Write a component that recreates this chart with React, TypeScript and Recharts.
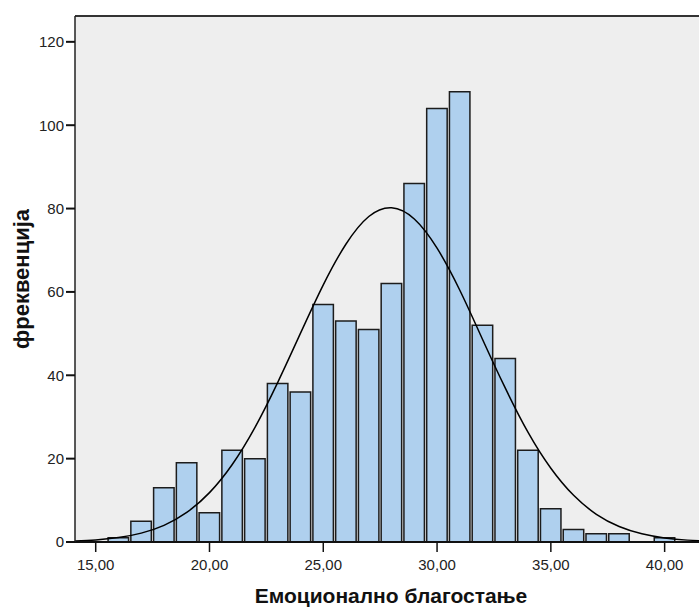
import React from 'react';
import {
  ComposedChart,
  Bar,
  Line,
  XAxis,
  YAxis,
  CartesianGrid,
  ReferenceLine,
} from 'recharts';

// Histogram bins (width 1, centred on whole numbers)
const binCenters = [16, 17, 18, 19, 20, 21, 22, 23, 24, 25, 26, 27, 28, 29, 30, 31, 32, 33, 34, 35, 36, 37, 38, 39, 40];
const binCounts = [1, 5, 13, 19, 7, 22, 20, 38, 36, 57, 53, 51, 62, 86, 104, 108, 52, 44, 22, 8, 3, 2, 2, 0, 1];

// Fitted normal curve, sampled at whole numbers
const curveX = [14, 15, 16, 17, 18, 19, 20, 21, 22, 23, 24, 25, 26, 27, 28, 29, 30, 31, 32, 33, 34, 35, 36, 37, 38, 39, 40, 41, 42];
const curveY = [0.22, 0.5, 1.06, 2.13, 4.0, 7.1, 11.85, 18.6, 27.5, 38.3, 50.1, 61.7, 71.5, 78.1, 80.2, 77.5, 70.5, 60.4, 48.6, 36.9, 26.3, 17.7, 11.2, 6.65, 3.72, 1.96, 0.97, 0.45, 0.2];

const xTicks = [15, 20, 25, 30, 35, 40];
const yTicks = [0, 20, 40, 60, 80, 100, 120];

const xTitle = 'Емоционално благостање';
const yTitle = 'фреквенција';

const X_MIN = 14.09;
const X_MAX = 41.51;
const Y_MAX = 126.2;

const WIDTH = 699;
const HEIGHT = 608;
const PLOT_LEFT = 75;
const PLOT_TOP = 16;
const PLOT_BOTTOM = 542;
const PLOT_WIDTH = WIDTH - PLOT_LEFT;
const BAR_WIDTH = PLOT_WIDTH / (X_MAX - X_MIN);

const FONT = '"Liberation Sans", Arial, sans-serif';

const tableData = curveX.map((x, i) => {
  const b = binCenters.indexOf(x);
  return { x, count: b >= 0 ? binCounts[b] : null, curve: curveY[i] };
});

const formatTick = (v: number) => v.toFixed(2).replace('.', ',');

const YTitle = (props: any) => {
  const vb = props.viewBox || {};
  const cx = 21;
  const cy = (vb.y ?? PLOT_TOP) + (vb.height ?? PLOT_BOTTOM - PLOT_TOP) / 2;
  return (
    <text
      x={cx}
      y={cy}
      transform={`rotate(-90 ${cx} ${cy})`}
      textAnchor="middle"
      dominantBaseline="central"
      fontFamily={FONT}
      fontSize={22}
      fontWeight="bold"
      fill="#111"
    >
      {yTitle}
    </text>
  );
};

const XTitle = (props: any) => {
  const vb = props.viewBox || {};
  const cx = (vb.x ?? PLOT_LEFT) + (vb.width ?? PLOT_WIDTH) / 2 + 4;
  return (
    <text
      x={cx}
      y={HEIGHT - 5}
      textAnchor="middle"
      fontFamily={FONT}
      fontSize={21}
      fontWeight="bold"
      fill="#111"
    >
      {xTitle}
    </text>
  );
};

export default function App() {
  return (
    <div style={{ position: 'absolute', left: 0, top: 0, background: '#fff' }}>
      <ComposedChart
        width={WIDTH}
        height={HEIGHT}
        data={tableData}
        margin={{ top: PLOT_TOP, right: 0, left: 0, bottom: 0 }}
        barGap={0}
        barCategoryGap={0}
      >
        <CartesianGrid horizontal={false} vertical={false} fill="#EEEEEE" />
        <XAxis
          type="number"
          dataKey="x"
          domain={[X_MIN, X_MAX]}
          allowDataOverflow
          ticks={xTicks}
          tickFormatter={formatTick}
          height={HEIGHT - PLOT_BOTTOM}
          tickSize={10}
          tickMargin={7}
          axisLine={{ stroke: '#111', strokeWidth: 2 }}
          tickLine={{ stroke: '#111', strokeWidth: 1.5 }}
          tick={{ fill: '#222', fontSize: 15, fontFamily: FONT }}
          label={<XTitle />}
        />
        <YAxis
          type="number"
          domain={[0, Y_MAX]}
          allowDataOverflow
          ticks={yTicks}
          width={PLOT_LEFT}
          tickSize={9}
          tickMargin={2}
          axisLine={{ stroke: '#222', strokeWidth: 1.5 }}
          tickLine={{ stroke: '#111', strokeWidth: 2 }}
          tick={{ fill: '#222', fontSize: 15, fontFamily: FONT }}
          label={<YTitle />}
        />
        <ReferenceLine y={Y_MAX} stroke="#333" strokeWidth={2} />
        <Bar
          dataKey="count"
          barSize={BAR_WIDTH}
          fill="#AFD0EE"
          stroke="#1c1c1c"
          strokeWidth={1.5}
          isAnimationActive={false}
        />
        <Line
          type="natural"
          dataKey="curve"
          stroke="#000"
          strokeWidth={1.5}
          dot={false}
          activeDot={false}
          isAnimationActive={false}
        />
      </ComposedChart>
    </div>
  );
}
